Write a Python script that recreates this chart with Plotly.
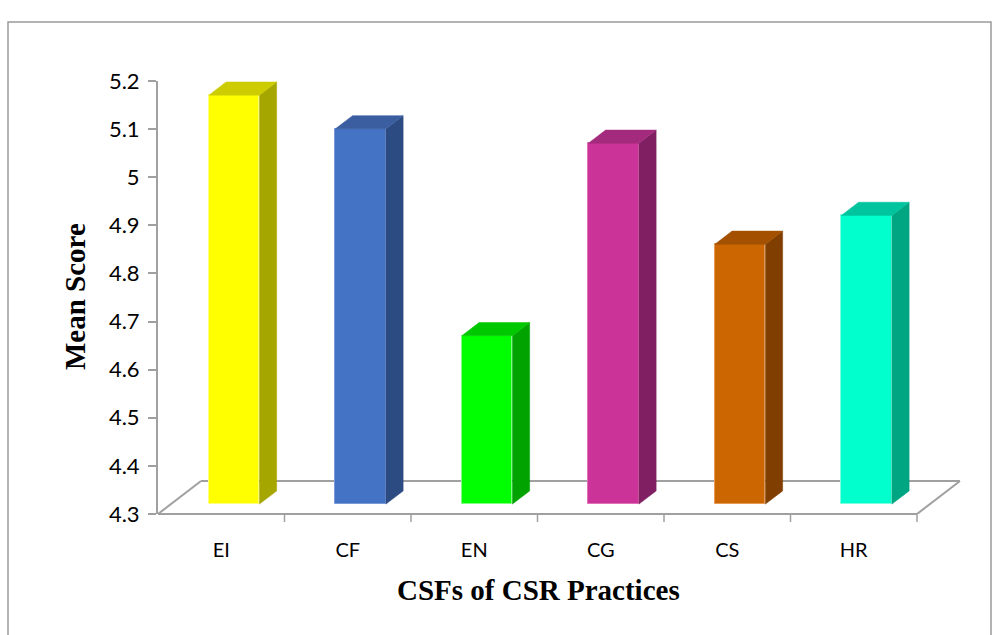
import plotly.graph_objects as go

# Mean score of each critical success factor
categories = ["EI", "CF", "EN", "CG", "CS", "HR"]
mean_scores = [5.15, 5.08, 4.65, 5.05, 4.84, 4.90]

# Face colours of the 3-D columns: front, top, side
front_colors = ["#FFFF00", "#4472C4", "#00FF00", "#CC3399", "#CC6600", "#00FFCC"]
top_colors = ["#CCCC00", "#3A5EA0", "#00C800", "#A32A7C", "#A35100", "#00C49E"]
side_colors = ["#A6A600", "#2C4B83", "#00A300", "#802062", "#803F00", "#00A582"]
edge_colors = ["#FFFF80", "#7A9AD6", "#80FF80", "#E070B8", "#E59A55", "#80FFE0"]

Y_MIN, Y_MAX = 4.3, 5.2
y_ticks = [4.3, 4.4, 4.5, 4.6, 4.7, 4.8, 4.9, 5.0, 5.1, 5.2]
y_tick_text = ["4.3", "4.4", "4.5", "4.6", "4.7", "4.8", "4.9", "5", "5.1", "5.2"]

# Plot area in pixels
W, H = 996, 635
L, R, T, B = 158, 962, 81, 514
unit_x = 126.5                      # pixels per category
x_lo = -0.5
x_hi = x_lo + (R - L) / unit_x
unit_y = (B - T) / (Y_MAX - Y_MIN)  # pixels per score unit

# Oblique depth of the floor (data units) and where the columns sit in depth
depth_dx = 43 / unit_x
depth_dy = 33 / unit_y
f_front, f_back = 0.30, 0.70
bar_w = 0.40

fig = go.Figure()

off_x = f_front * depth_dx
off_y = f_front * depth_dy
dd_x = (f_back - f_front) * depth_dx
dd_y = (f_back - f_front) * depth_dy

# Front faces
fig.add_trace(go.Bar(
    x=[i + off_x for i in range(len(categories))],
    y=[v - Y_MIN for v in mean_scores],
    base=[Y_MIN + off_y] * len(categories),
    width=bar_w,
    marker=dict(color=front_colors, line=dict(color=edge_colors, width=1)),
    showlegend=False,
    hoverinfo="skip",
))

# Side and top faces
for i, v in enumerate(mean_scores):
    xl = i + off_x - bar_w / 2
    xr = i + off_x + bar_w / 2
    yb = Y_MIN + off_y
    yt = v + off_y
    fig.add_trace(go.Scatter(
        x=[xr, xr + dd_x, xr + dd_x, xr, xr],
        y=[yb, yb + dd_y, yt + dd_y, yt, yb],
        fill="toself", fillcolor=side_colors[i],
        mode="lines", line=dict(color=side_colors[i], width=0.5),
        showlegend=False, hoverinfo="skip",
    ))
    fig.add_trace(go.Scatter(
        x=[xl, xr, xr + dd_x, xl + dd_x, xl],
        y=[yt, yt, yt + dd_y, yt + dd_y, yt],
        fill="toself", fillcolor=top_colors[i],
        mode="lines", line=dict(color=top_colors[i], width=0.5),
        showlegend=False, hoverinfo="skip",
    ))

grey = "#A0A0A0"
shapes = []
x_end = len(categories) - 0.5
# Floor outline
shapes.append(dict(type="line", xref="x", yref="paper", x0=x_lo, x1=x_end, y0=0, y1=0,
                   line=dict(color=grey, width=2), layer="below"))
shapes.append(dict(type="line", xref="x", yref="y", x0=x_lo, y0=Y_MIN,
                   x1=x_lo + depth_dx, y1=Y_MIN + depth_dy,
                   line=dict(color=grey, width=2), layer="below"))
shapes.append(dict(type="line", xref="x", yref="y", x0=x_lo + depth_dx, y0=Y_MIN + depth_dy,
                   x1=x_end + depth_dx, y1=Y_MIN + depth_dy,
                   line=dict(color=grey, width=2), layer="below"))
shapes.append(dict(type="line", xref="x", yref="y", x0=x_end, y0=Y_MIN,
                   x1=x_end + depth_dx, y1=Y_MIN + depth_dy,
                   line=dict(color=grey, width=2), layer="below"))
# Category boundary ticks
tick_len = 8 / (B - T)
for k in range(1, len(categories) + 1):
    shapes.append(dict(type="line", xref="x", yref="paper", x0=k - 0.5, x1=k - 0.5,
                       y0=0, y1=-tick_len, line=dict(color=grey, width=1.5)))


def px_to_paper_x(px):
    return (px - L) / (R - L)


def px_to_paper_y(py):
    return (B - py) / (B - T)


# Chart frame
shapes.append(dict(type="rect", xref="paper", yref="paper",
                   x0=px_to_paper_x(8), x1=px_to_paper_x(991),
                   y0=px_to_paper_y(700), y1=px_to_paper_y(22),
                   line=dict(color="#9A9A9A", width=1.5), layer="below"))

annotations = [
    dict(text="<b>Mean Score</b>", xref="paper", yref="paper",
         x=px_to_paper_x(75), y=px_to_paper_y(297), textangle=-90, showarrow=False,
         font=dict(family="Liberation Serif", size=29, color="black"),
         xanchor="center", yanchor="middle"),
    dict(text="<b>CSFs of CSR Practices</b>", xref="paper", yref="paper",
         x=px_to_paper_x(538), y=px_to_paper_y(590), showarrow=False,
         font=dict(family="Liberation Serif", size=29, color="black"),
         xanchor="center", yanchor="middle"),
]

fig.update_layout(
    width=W, height=H, autosize=False,
    margin=dict(l=L, r=W - R, t=T, b=H - B, pad=0),
    paper_bgcolor="white", plot_bgcolor="white",
    bargap=0, showlegend=False,
    shapes=shapes, annotations=annotations,
    xaxis=dict(range=[x_lo, x_hi], tickvals=list(range(len(categories))), ticktext=categories,
               ticks="", showgrid=False, zeroline=False, showline=False,
               tickfont=dict(family="Lato", size=20, color="black"),
               ticklabelstandoff=22, fixedrange=True),
    yaxis=dict(range=[Y_MIN, Y_MAX], tickvals=y_ticks, ticktext=y_tick_text,
               ticks="outside", ticklen=8, tickcolor=grey, tickwidth=1.5,
               showline=True, linecolor=grey, linewidth=2,
               showgrid=False, zeroline=False,
               tickfont=dict(family="Lato", size=22, color="black"),
               ticklabelstandoff=4, fixedrange=True),
)

fig.write_html("out.html")
